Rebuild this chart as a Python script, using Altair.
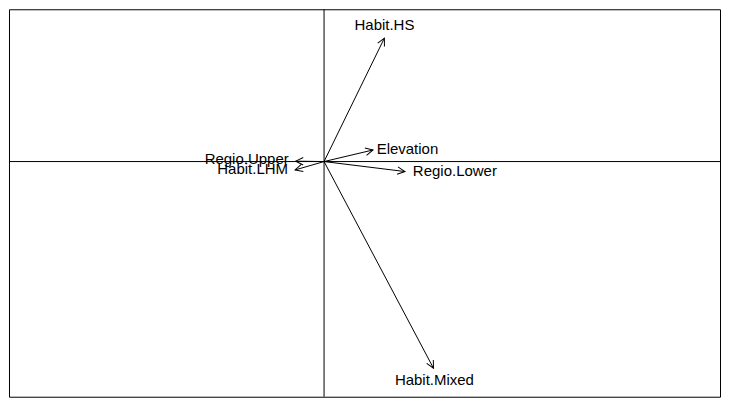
import altair as alt
import pandas as pd
import numpy as np

# Fitted vector scores (ordination units)
labels = ["Habit.HS", "Elevation", "Regio.Lower", "Habit.Mixed", "Regio.Upper", "Habit.LHM"]
arrow_x = [0.151, 0.1225, 0.2025, 0.274, -0.071, -0.0725]
arrow_y = [0.309, 0.029, -0.025, -0.5175, 0.001, -0.021]
# label anchor positions
label_x = [0.15125, 0.20875, 0.3275, 0.27625, -0.19375, -0.17875]
label_y = [0.341, 0.031, -0.024, -0.5475, 0.006, -0.019]

df = pd.DataFrame({
    "label": labels,
    "ax": arrow_x,
    "ay": arrow_y,
    "lx": label_x,
    "ly": label_y,
})
df["x0"] = 0.0
df["y0"] = 0.0
df["angle"] = (np.degrees(np.arctan2(df["ax"], df["ay"])) % 360)

xs = alt.Scale(domain=[-0.78875, 0.99125], nice=False, zero=False)
ys = alt.Scale(domain=[-0.58875, 0.38125], nice=False, zero=False)

base = alt.Chart(df)

hline = alt.Chart(pd.DataFrame({"y": [0.0]})).mark_rule(color="black", strokeWidth=1).encode(
    y=alt.Y("y:Q", scale=ys, axis=None)
)
vline = alt.Chart(pd.DataFrame({"x": [0.0]})).mark_rule(color="black", strokeWidth=1).encode(
    x=alt.X("x:Q", scale=xs, axis=None)
)

shafts = base.mark_rule(color="black", strokeWidth=1).encode(
    x=alt.X("x0:Q", scale=xs, axis=None),
    y=alt.Y("y0:Q", scale=ys, axis=None),
    x2="ax:Q",
    y2="ay:Q",
)

heads = base.mark_point(
    shape="M -0.5 1 L 0 0 L 0.5 1",
    filled=False,
    stroke="black",
    strokeWidth=1,
    size=225,
    opacity=1,
).encode(
    x=alt.X("ax:Q", scale=xs, axis=None),
    y=alt.Y("ay:Q", scale=ys, axis=None),
    angle=alt.Angle("angle:Q", scale=None),
)

texts = base.mark_text(
    font="Liberation Sans",
    fontSize=15,
    color="black",
    align="center",
    baseline="middle",
).encode(
    x=alt.X("lx:Q", scale=xs, axis=None),
    y=alt.Y("ly:Q", scale=ys, axis=None),
    text="label:N",
)

chart = alt.layer(hline, vline, shafts, heads, texts).properties(
    width=712, height=388, padding=0
).configure_view(stroke="black", strokeWidth=1)

chart.save("out.html", embed_options={"renderer": "svg", "actions": False})
